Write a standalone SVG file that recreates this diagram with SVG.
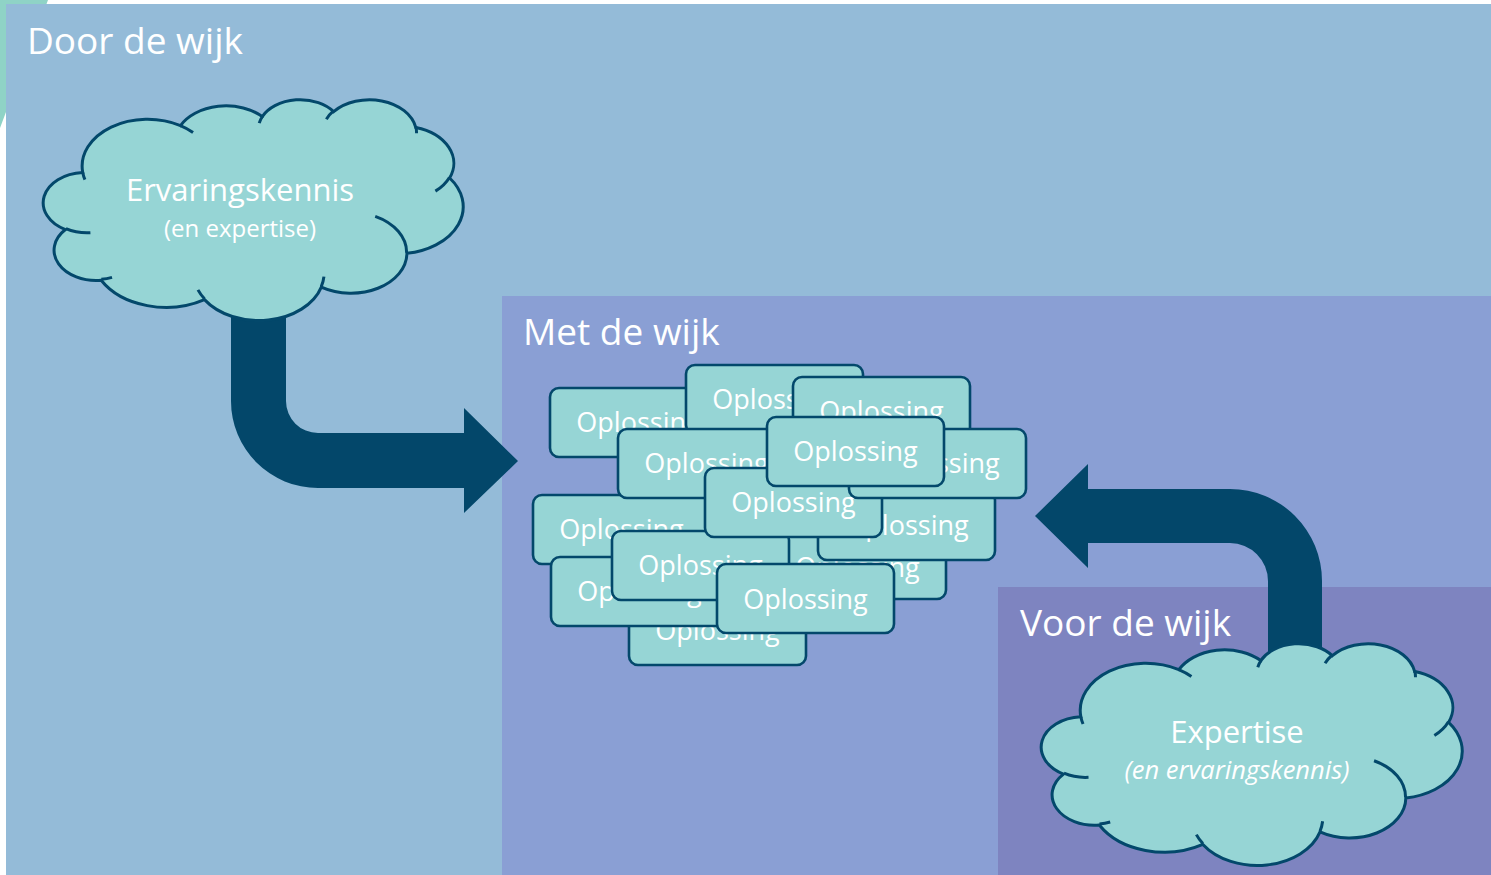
<svg xmlns="http://www.w3.org/2000/svg" width="1491" height="875" viewBox="0 0 1491 875">
<style>
.t{font-family:"Open Sans","Noto Sans","Liberation Sans",sans-serif;fill:#ffffff}
.title{font-size:37px}
.box rect{fill:#96D5D5;stroke:#03486B;stroke-width:2.6}
.box text{font-size:27px;text-anchor:middle}
.cl{fill:#96D5D5;stroke:#03486B;stroke-width:3;vector-effect:non-scaling-stroke}
.fold{fill:none;stroke:#03486B;stroke-width:3;vector-effect:non-scaling-stroke}
.ct{font-size:31px;text-anchor:middle}
.cs{font-size:24px;text-anchor:middle}
.arrow{fill:#03476A}
</style>
<rect x="0" y="0" width="1491" height="875" fill="#ffffff"/>
<polygon points="0,0 48,0 0,128" fill="#8FD3C6"/>
<g id="panel-door">
<rect x="6" y="4" width="1485" height="871" fill="#94BBD8"/>
<text class="t title" x="27" y="54">Door de wijk</text>
</g>
<g id="panel-met">
<rect x="502" y="296" width="989" height="579" fill="#8A9FD4"/>
<text class="t title" x="523" y="345">Met de wijk</text>
</g>
<g id="panel-voor">
<rect x="998" y="587" width="493" height="288" fill="#7E84C0"/>
<text class="t title" x="1020" y="636">Voor de wijk</text>
</g>
<g id="connectors">
<path class="arrow" d="M231 300 L286 300 L286 401 A32 32 0 0 0 318 433 L464 433 L464 408 L518 461 L464 513 L464 488 L318 488 A87 87 0 0 1 231 401 Z"/>
<path class="arrow" d="M1268 660 L1322 660 L1322 581 A92 92 0 0 0 1230 489 L1088 489 L1088 464 L1035 516 L1088 568 L1088 543 L1230 543 A38 38 0 0 1 1268 581 Z"/>
</g>
<g id="cloud-ervaringskennis">
<g transform="translate(45,99) scale(0.009676,0.00511)">
<path class="cl" d="M3900 14370 A6753 9190 0 0 1 14004 5201 A5333 7267 0 0 1 22455 3430 A4365 5945 0 0 1 29832 2479 A4857 6595 0 0 1 38317 5574 A5333 7273 0 0 1 41818 15458 A6775 9220 0 0 1 37405 30203 A5785 7867 0 0 1 28558 36814 A6752 9215 0 0 1 16482 39265 A7720 10543 0 0 1 5807 35471 A4360 5918 0 0 1 2114 25550 A4345 5945 0 0 1 3900 14370 Z"/>
<path class="fold" d="M4693 26177 A4345 5945 0 0 1 2159 25379 M6928 34899 A4360 5918 0 0 1 5822 35280 M16478 39090 A6752 9215 0 0 1 15811 37351 M28827 34751 A6752 9215 0 0 1 28561 36660 M34129 22954 A5785 7867 0 0 1 37376 30086 M41798 15354 A5333 7273 0 0 1 40346 18033 M38324 5426 A4857 6595 0 0 1 38400 6690 M29078 3952 A4857 6595 0 0 1 29820 2340 M22141 4720 A4365 5945 0 0 1 22500 3330 M14000 5192 A6753 9190 0 0 1 15301 6541 M4127 15789 A6753 9190 0 0 1 3900 14370"/>
</g>
<text class="t ct" x="240" y="201">Ervaringskennis</text>
<text class="t cs" x="240" y="237">(en expertise)</text>
</g>
<g id="cloud-expertise">
<g transform="translate(1043,643) scale(0.0097,0.00513)">
<path class="cl" d="M3900 14370 A6753 9190 0 0 1 14004 5201 A5333 7267 0 0 1 22455 3430 A4365 5945 0 0 1 29832 2479 A4857 6595 0 0 1 38317 5574 A5333 7273 0 0 1 41818 15458 A6775 9220 0 0 1 37405 30203 A5785 7867 0 0 1 28558 36814 A6752 9215 0 0 1 16482 39265 A7720 10543 0 0 1 5807 35471 A4360 5918 0 0 1 2114 25550 A4345 5945 0 0 1 3900 14370 Z"/>
<path class="fold" d="M4693 26177 A4345 5945 0 0 1 2159 25379 M6928 34899 A4360 5918 0 0 1 5822 35280 M16478 39090 A6752 9215 0 0 1 15811 37351 M28827 34751 A6752 9215 0 0 1 28561 36660 M34129 22954 A5785 7867 0 0 1 37376 30086 M41798 15354 A5333 7273 0 0 1 40346 18033 M38324 5426 A4857 6595 0 0 1 38400 6690 M29078 3952 A4857 6595 0 0 1 29820 2340 M22141 4720 A4365 5945 0 0 1 22500 3330 M14000 5192 A6753 9190 0 0 1 15301 6541 M4127 15789 A6753 9190 0 0 1 3900 14370"/>
</g>
<text class="t ct" x="1237" y="743">Expertise</text>
<text class="t cs" x="1237" y="779" font-style="italic" style="font-size:25.5px">(en ervaringskennis)</text>
</g>
<g id="box-a" class="box"><rect x="550" y="388" width="177" height="69" rx="9"/><text class="t" x="638.5" y="432">Oplossing</text></g>
<g id="box-b" class="box"><rect x="686" y="365" width="177" height="69" rx="9"/><text class="t" x="774.5" y="409">Oplossing</text></g>
<g id="box-c" class="box"><rect x="793" y="377" width="177" height="69" rx="9"/><text class="t" x="881.5" y="421">Oplossing</text></g>
<g id="box-l" class="box"><rect x="629" y="596" width="177" height="69" rx="9"/><text class="t" x="717.5" y="640">Oplossing</text></g>
<g id="box-i" class="box"><rect x="533" y="495" width="177" height="69" rx="9"/><text class="t" x="621.5" y="539">Oplossing</text></g>
<g id="box-k" class="box"><rect x="551" y="557" width="177" height="69" rx="9"/><text class="t" x="639.5" y="601">Oplossing</text></g>
<g id="box-j" class="box"><rect x="769" y="530" width="177" height="69" rx="9"/><text class="t" x="857.5" y="577">Oplossing</text></g>
<g id="box-h" class="box"><rect x="818" y="491" width="177" height="69" rx="9"/><text class="t" x="906.5" y="535">Oplossing</text></g>
<g id="box-m" class="box"><rect x="612" y="531" width="177" height="69" rx="9"/><text class="t" x="700.5" y="575">Oplossing</text></g>
<g id="box-e" class="box"><rect x="618" y="429" width="177" height="69" rx="9"/><text class="t" x="706.5" y="473">Oplossing</text></g>
<g id="box-g" class="box"><rect x="705" y="468" width="177" height="69" rx="9"/><text class="t" x="793.5" y="512">Oplossing</text></g>
<g id="box-d" class="box"><rect x="849" y="429" width="177" height="69" rx="9"/><text class="t" x="937.5" y="473">Oplossing</text></g>
<g id="box-f" class="box"><rect x="767" y="417" width="177" height="69" rx="9"/><text class="t" x="855.5" y="461">Oplossing</text></g>
<g id="box-n" class="box"><rect x="717" y="564" width="177" height="69" rx="9"/><text class="t" x="805.5" y="609">Oplossing</text></g>
</svg>
